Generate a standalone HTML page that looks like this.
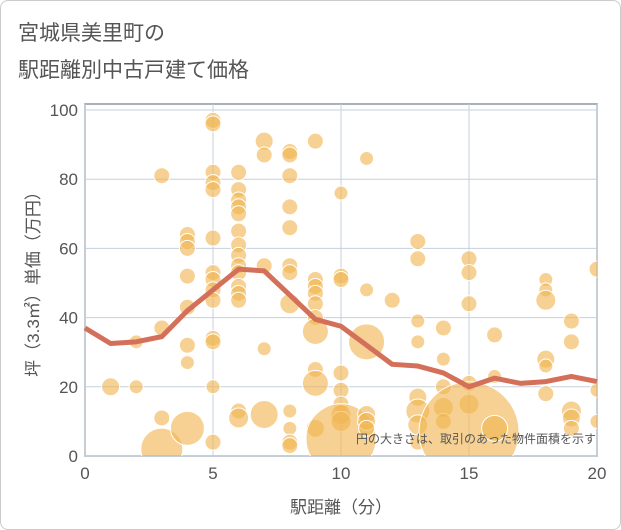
<!DOCTYPE html>
<html><head><meta charset="utf-8"><style>
body{margin:0;background:#fff;font-family:"Liberation Sans","Noto Sans CJK JP",sans-serif}
#card{position:absolute;left:0;top:0;width:619px;height:528px;border:1px solid #ccc;border-radius:8px;background:#fff}
</style></head><body>
<div id="card">
<svg width="621" height="530" style="position:absolute;left:-1px;top:-1px">
<text x="18" y="40" font-size="21" fill="#555">宮城県美里町の</text>
<text x="18" y="77" font-size="21" fill="#555">駅距離別中古戸建て価格</text>
<defs><clipPath id="pc"><rect x="85" y="104" width="512" height="352"/></clipPath></defs>
<rect x="85" y="104" width="512" height="352" fill="#fff" stroke="#8c97a3" stroke-width="1.5"/>
<g id="grid"></g>
<g id="bubbles" clip-path="url(#pc)"></g>
<g id="line"></g>
<g id="ticks"></g>
<text x="596" y="443" font-size="12" fill="#555" text-anchor="end">円の大きさは、取引のあった物件面積を示す</text>
<text x="341" y="513" font-size="17" fill="#555" text-anchor="middle">駅距離（分）</text>
<text transform="translate(39,280) rotate(-90)" font-size="17" fill="#555" text-anchor="middle">坪（3.3㎡）単価（万円）</text>
</svg></div>
<script>
const xTicks=[0,5,10,15,20];
const yTicks=[0,20,40,60,80,100];
const lineX=[0,1,2,3,4,5,6,7,8,9,10,11,12,13,14,15,16,17,18,19,20];
const lineY=[37,32.5,33,34.5,42,48,54,53.5,46.5,39.5,37.5,32,26.5,26,24,20,22.5,21,21.5,23,21.5];
const bubX=[1,2,2,3,3,3,3,4,4,4,4,4,4,4,4,5,5,5,5,5,5,5,5,5,5,5,5,5,5,6,6,6,6,6,6,6,6,6,6,6,6,6,6,6,7,7,7,7,7,8,8,8,8,8,8,8,8,8,8,8,8,9,9,9,9,9,9,9,9,9,9,10,10,10,10,10,10,10,10,10,11,11,11,11,11,11,12,13,13,13,13,13,13,13,13,14,14,14,14,14,15,15,15,15,15,15,16,16,16,18,18,18,18,18,18,19,19,19,19,19,20,20,20];
const bubY=[20,20,33,81,37,11,2,64,62,60,52,43,32,27,8,97,96,82,79,77,63,53,51,48,45,34,33,20,4,82,77,74,72,70,65,61,58,55,53,49,47,45,13,11,91,87,55,31,12,88,87,81,72,66,55,53,44,13,8,4,3,91,51,49,47,44,40,36,25,21,8,76,52,51,24,19,15,12,10,5,86,48,33,12,10,8,45,62,57,39,33,17,13,9,4,37,28,20,14,10,57,53,44,21,15,7,35,23,8,51,48,45,28,26,18,39,33,13,11,8,54,19,10];
const bubSize=[9,7,7,8,8,8,21,8,8,8,8,8,8,7,17,8,8,8,8,8,8,8,8,8,8,8,8,7,8,8,8,8,8,8,8,8,8,8,8,8,8,8,8,10,9,8,8,7,14,8,8,8,8,8,8,8,10,7,7,8,8,8,8,8,8,8,8,13,8,13,9,7,8,8,8,8,8,10,10,35,7,7,18,9,9,8,8,8,8,7,7,9,12,10,8,8,7,8,10,8,8,8,8,8,10,50,8,7,13,7,7,10,9,7,8,8,8,10,9,8,8,7,7];
const NS="http://www.w3.org/2000/svg";
const X0=85,X1=597,Y0=456,Y1=110;
const sx=v=>X0+(X1-X0)*v/20, sy=v=>Y0-(Y0-Y1)*v/100;
function mk(t,a){const e=document.createElementNS(NS,t);for(const k in a)e.setAttribute(k,a[k]);return e;}
const grid=document.getElementById('grid'),ticks=document.getElementById('ticks');
xTicks.forEach(v=>{
 const l=mk('line',{x1:sx(v),x2:sx(v),y1:104,y2:456,stroke:'#c5d0dc','stroke-width':1});
 
 
 grid.appendChild(l);
 const t=mk('text',{x:sx(v),y:479,'font-size':17,fill:'#555','text-anchor':'middle'});
 t.textContent=v;
 
 
 ticks.appendChild(t);
});
yTicks.forEach(v=>{
 const l=mk('line',{x1:85,x2:597,y1:sy(v),y2:sy(v),stroke:'#c5d0dc','stroke-width':1});
 
 
 grid.appendChild(l);
 const t=mk('text',{x:78,y:sy(v)+6,'font-size':17,fill:'#555','text-anchor':'end'});
 t.textContent=v;
 
 
 ticks.appendChild(t);
});
const bg=document.getElementById('bubbles');
bubX.forEach((v,i)=>{
 const c=mk('circle',{cx:sx(v),cy:sy(bubY[i]),r:bubSize[i],fill:'#f0b450','fill-opacity':0.62,stroke:'#fff','stroke-width':1});
 
 
 bg.appendChild(c);
});
const p=mk('polyline',{points:lineX.map((v,i)=>sx(v)+','+sy(lineY[i])).join(' '),fill:'none',stroke:'#d4705a','stroke-width':5,'stroke-linejoin':'round'});


document.getElementById('line').appendChild(p);
</script>
</body></html>
